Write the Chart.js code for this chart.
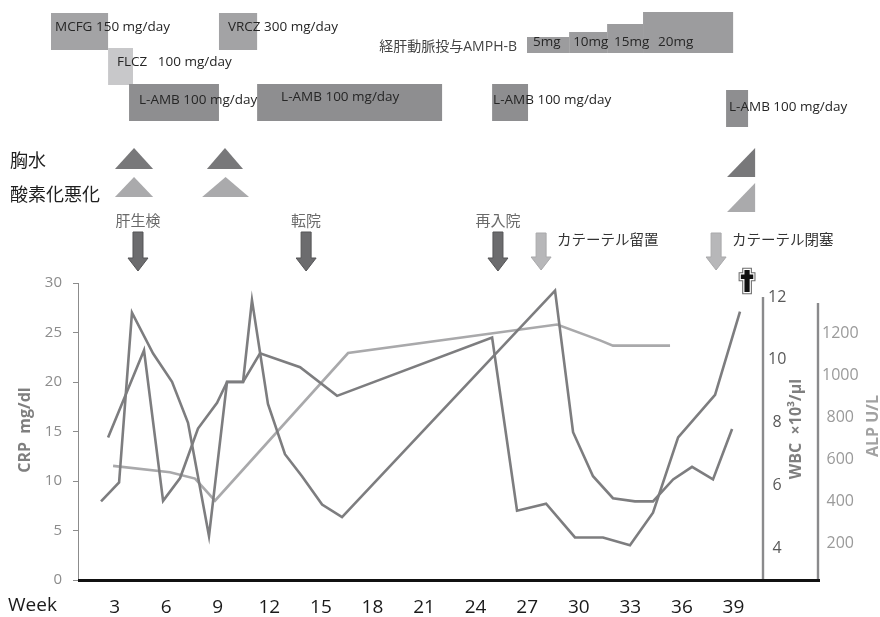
<!DOCTYPE html>
<html>
<head>
<meta charset="utf-8">
<script src="https://cdn.jsdelivr.net/npm/chart.js@4.4.1/dist/chart.umd.min.js"></script>
<style>
  html, body { margin: 0; padding: 0; background: #ffffff; }
  #wrap { width: 880px; height: 617px; position: relative; }
  canvas { display: block; }
</style>
</head>
<body>
<div id="wrap"><canvas id="course" width="880" height="617"></canvas></div>
<script>
// ---------- Laboratory course, x = week of illness ----------
const wbcWeeks  = [2.21, 3.26, 4.01, 5.24, 6.34, 7.27, 8.49, 9.54, 10.47, 10.99, 11.92, 12.91, 13.90, 15.07, 16.23,
                   28.62, 29.67, 30.83, 31.99, 33.27, 34.32, 35.49, 36.59, 37.81, 38.92];
const wbcValues = [5.5, 6.1, 11.5, 10.2, 9.3, 8.0, 4.4, 9.3, 9.3, 11.9, 8.6, 7.0, 6.3, 5.4, 5.0,
                   12.2, 7.7, 6.3, 5.6, 5.5, 5.5, 6.2, 6.6, 6.2, 7.8];

const crpWeeks  = [2.62, 4.71, 5.82, 6.81, 7.85, 8.96, 9.54, 10.47, 11.46, 13.79, 15.94,
                   24.96, 26.41, 28.10, 29.78, 31.41, 32.98, 34.32, 35.78, 37.93, 39.38];
const crpValues = [14.4, 23.2, 8.0, 10.3, 15.3, 17.9, 20.0, 20.0, 22.9, 21.5, 18.6,
                   24.5, 7.0, 7.7, 4.3, 4.3, 3.5, 6.8, 14.4, 18.7, 27.1];

const alpWeeks  = [2.91, 6.22, 7.68, 8.84, 16.58, 28.74, 31.24, 31.99, 35.31];
const alpValues = [570, 540, 510, 405, 1105, 1240, 1165, 1140, 1140];

// ---------- Axis ticks ----------
const weekTicks = [3, 6, 9, 12, 15, 18, 21, 24, 27, 30, 33, 36, 39];
const crpTicks  = [0, 5, 10, 15, 20, 25, 30];
const wbcTicks  = [4, 6, 8, 10, 12];
const alpTicks  = [200, 400, 600, 800, 1000, 1200];

// ---------- Antifungal therapy (weeks) ----------
const drugNames = ['MCFG 150 mg/day', 'FLCZ   100 mg/day', 'VRCZ 300 mg/day',
                   'L-AMB 100 mg/day', 'L-AMB 100 mg/day', 'L-AMB 100 mg/day', 'L-AMB 100 mg/day'];
const drugStart = [-0.70, 2.62, 9.07, 3.84, 11.29, 24.96, 38.57];
const drugEnd   = [ 2.62, 4.07, 11.29, 9.07, 22.05, 27.05, 39.85];

// Trans-hepatic-arterial AMPH-B, dose steps
const amphLabel = '経肝動脈投与AMPH-B';
const amphDoses = ['5mg', '10mg', '15mg', '20mg'];
const amphStart = [26.99, 29.44, 31.65, 33.74];
const amphEnd   = [29.44, 31.65, 33.74, 38.98];

// ---------- Clinical findings (weeks) ----------
const effusionStart = [3.02, 8.37, 38.63];
const effusionEnd   = [5.24, 10.47, 40.26];
const oxygenStart   = [3.02, 8.09, 38.63];
const oxygenEnd     = [5.24, 10.82, 40.26];

const eventNames = ['肝生検', '転院', '再入院', 'カテーテル留置', 'カテーテル閉塞'];
const eventWeeks = [4.36, 14.14, 25.30, 27.81, 37.99];
const deathWeek  = 39.79;

// ---------- Drawing styles ----------
const LATIN = '"Open Sans", "Noto Sans CJK JP", sans-serif';
const CJK   = '"Noto Sans CJK JP", "Noto Sans CJK SC", sans-serif';
const LINE_DARK  = '#7d7d7f';
const LINE_LIGHT = '#a9a9ab';

// bar band (px), fill and label anchor for each drug course
const drugStyle = [
  { top: 13, bottom: 50, fill: '#a3a3a5', dx: 4,  ty: 27 },
  { top: 48, bottom: 85, fill: '#c8c8ca', dx: 9,  ty: 62 },
  { top: 13, bottom: 50, fill: '#a3a3a5', dx: 9,  ty: 27 },
  { top: 84, bottom: 121, fill: '#8e8e90', dx: 10, ty: 100 },
  { top: 84, bottom: 121, fill: '#8e8e90', dx: 24, ty: 97 },
  { top: 84, bottom: 121, fill: '#8e8e90', dx: 1,  ty: 100 },
  { top: 90, bottom: 127, fill: '#8e8e90', dx: 3,  ty: 107 }
];
const amphStepTop = [37, 32, 24, 12];
const amphTextDx  = [6, 4, 7, 15];
// event arrows: dark ones carry the label above, light ones to the right
const eventStyle = ['dark', 'dark', 'dark', 'light', 'light'];

function drawArrow(ctx, cx, top, bottom, fill, stroke) {
  const shaft = 10, head = 20, headH = 13;
  ctx.beginPath();
  ctx.moveTo(cx - shaft / 2, top);
  ctx.lineTo(cx + shaft / 2, top);
  ctx.lineTo(cx + shaft / 2, bottom - headH);
  ctx.lineTo(cx + head / 2, bottom - headH);
  ctx.lineTo(cx, bottom);
  ctx.lineTo(cx - head / 2, bottom - headH);
  ctx.lineTo(cx - shaft / 2, bottom - headH);
  ctx.closePath();
  ctx.fillStyle = fill;
  ctx.fill();
  ctx.lineWidth = 1;
  ctx.strokeStyle = stroke;
  ctx.stroke();
}

function drawCross(ctx, cx, cy) {
  const b = 2.6, a = 6.2, t = -11, btm = 11, a0 = -6.5, a1 = -2;
  ctx.beginPath();
  ctx.moveTo(cx - b, cy + t);
  ctx.lineTo(cx + b, cy + t);
  ctx.lineTo(cx + b, cy + a0);
  ctx.lineTo(cx + a, cy + a0);
  ctx.lineTo(cx + a, cy + a1);
  ctx.lineTo(cx + b, cy + a1);
  ctx.lineTo(cx + b, cy + btm);
  ctx.lineTo(cx - b, cy + btm);
  ctx.lineTo(cx - b, cy + a1);
  ctx.lineTo(cx - a, cy + a1);
  ctx.lineTo(cx - a, cy + a0);
  ctx.lineTo(cx - b, cy + a0);
  ctx.closePath();
  ctx.lineJoin = 'miter';
  ctx.lineWidth = 4.5; ctx.strokeStyle = '#6a6a6a'; ctx.stroke();
  ctx.lineWidth = 2.4; ctx.strokeStyle = '#ffffff'; ctx.stroke();
  ctx.fillStyle = '#111111'; ctx.fill();
}

function text(ctx, str, x, y, font, color, align, baseline) {
  ctx.font = font;
  ctx.fillStyle = color;
  ctx.textAlign = align || 'left';
  ctx.textBaseline = baseline || 'middle';
  ctx.fillText(str, x, y);
}

function rotatedText(ctx, str, cx, cy, font, color) {
  ctx.save();
  ctx.translate(cx, cy);
  ctx.rotate(-Math.PI / 2);
  text(ctx, str, 0, 0, font, color, 'center', 'middle');
  ctx.restore();
}

const courseAnnotations = {
  id: 'courseAnnotations',
  beforeDraw(chart) {
    const { ctx, width, height } = chart;
    ctx.save();
    ctx.fillStyle = '#ffffff';
    ctx.fillRect(0, 0, width, height);
    ctx.restore();
  },
  afterDraw(chart) {
    const { ctx, chartArea } = chart;
    const x = chart.scales.x, wbc = chart.scales.wbc, alp = chart.scales.alp;
    const px = w => x.getPixelForValue(w);
    ctx.save();

    // drug courses
    drugNames.forEach((name, i) => {
      const s = drugStyle[i];
      ctx.fillStyle = s.fill;
      ctx.fillRect(px(drugStart[i]), s.top, px(drugEnd[i]) - px(drugStart[i]), s.bottom - s.top);
    });
    drugNames.forEach((name, i) => {
      const s = drugStyle[i];
      text(ctx, name, px(drugStart[i]) + s.dx, s.ty, '13.5px ' + LATIN, '#262626');
    });

    // AMPH-B dose steps
    amphDoses.forEach((d, i) => {
      ctx.fillStyle = '#9c9c9e';
      ctx.fillRect(px(amphStart[i]), amphStepTop[i], px(amphEnd[i]) - px(amphStart[i]), 53 - amphStepTop[i]);
    });
    amphDoses.forEach((d, i) => {
      text(ctx, d, px(amphStart[i]) + amphTextDx[i], 42, '13.5px ' + LATIN, '#262626');
    });
    text(ctx, amphLabel, px(amphStart[0]) - 10, 47, '14px ' + LATIN, '#444444', 'right');

    // clinical findings
    text(ctx, '胸水', 10, 160, '18px ' + CJK, '#1f1f1f');
    text(ctx, '酸素化悪化', 10, 194, '18px ' + CJK, '#1f1f1f');
    const tri = (x0, x1, yt, yb, right, color) => {
      ctx.beginPath();
      ctx.moveTo(x0, yb);
      ctx.lineTo(x1, yb);
      if (right) ctx.lineTo(x1, yt); else ctx.lineTo((x0 + x1) / 2, yt);
      ctx.closePath();
      ctx.fillStyle = color;
      ctx.fill();
    };
    effusionStart.forEach((s, i) => {
      const right = i === effusionStart.length - 1;
      tri(px(s), px(effusionEnd[i]), 148, right ? 177 : 169, right, '#78787a');
    });
    oxygenStart.forEach((s, i) => {
      const right = i === oxygenStart.length - 1;
      tri(px(s), px(oxygenEnd[i]), right ? 183 : 177, right ? 212 : 197, right, '#aaaaac');
    });

    // events
    eventNames.forEach((name, i) => {
      const cx = px(eventWeeks[i]);
      if (eventStyle[i] === 'dark') {
        drawArrow(ctx, cx, 232, 271, '#6c6c6e', '#555557');
        text(ctx, name, cx, 220, '15px ' + CJK, '#6a6a6a', 'center');
      } else {
        drawArrow(ctx, cx, 233, 270, '#b7b7b9', '#a9a9ab');
        text(ctx, name, cx + 16, 239, '14.5px ' + CJK, '#333333', 'left');
      }
    });
    drawCross(ctx, px(deathWeek), 281);

    // axis lines of the secondary scales and the time baseline
    ctx.lineWidth = 2.4;
    ctx.strokeStyle = '#8a8a8c';
    ctx.beginPath();
    ctx.moveTo(wbc.left + 1, wbc.getPixelForValue(wbcTicks[wbcTicks.length - 1]));
    ctx.lineTo(wbc.left + 1, chartArea.bottom);
    ctx.moveTo(alp.left, chartArea.top + 20);
    ctx.lineTo(alp.left, chartArea.bottom);
    ctx.stroke();
    ctx.lineWidth = 3;
    ctx.strokeStyle = '#111111';
    ctx.beginPath();
    ctx.moveTo(chartArea.left, chartArea.bottom + 0.5);
    ctx.lineTo(alp.left + 2, chartArea.bottom + 0.5);
    ctx.stroke();

    // axis titles
    rotatedText(ctx, 'CRP  mg/dl', 25, 430, 'bold 16px ' + LATIN, '#7f7f7f');
    rotatedText(ctx, 'WBC  ×10³/μl', 796, 429, 'bold 16px ' + LATIN, '#7f7f7f');
    rotatedText(ctx, 'ALP U/L', 873, 426, 'bold 16px ' + LATIN, '#a2a2a2');
    text(ctx, 'Week', 8, 596, '19px ' + LATIN, '#1a1a1a', 'left', 'top');

    ctx.restore();
  }
};

const pts = (xs, ys) => xs.map((w, i) => ({ x: w, y: ys[i] }));
const setTicks = list => scale => { scale.ticks = list.map(v => ({ value: v })); };
const plain = v => String(v);

function build() {
  new Chart(document.getElementById('course'), {
    type: 'line',
    data: {
      datasets: [
        { label: 'WBC', data: pts(wbcWeeks, wbcValues), yAxisID: 'wbc', borderColor: LINE_DARK,
          borderWidth: 2.6, pointRadius: 0, tension: 0, fill: false, order: 1 },
        { label: 'CRP', data: pts(crpWeeks, crpValues), yAxisID: 'crp', borderColor: LINE_DARK,
          borderWidth: 2.6, pointRadius: 0, tension: 0, fill: false, order: 2 },
        { label: 'ALP', data: pts(alpWeeks, alpValues), yAxisID: 'alp', borderColor: LINE_LIGHT,
          borderWidth: 2.6, pointRadius: 0, tension: 0, fill: false, order: 3 }
      ]
    },
    options: {
      responsive: false,
      animation: false,
      devicePixelRatio: 1,
      layout: { padding: { top: 283, left: 0, right: 0, bottom: 0 } },
      plugins: { legend: { display: false }, tooltip: { enabled: false }, title: { display: false } },
      scales: {
        x: {
          type: 'linear', position: 'bottom', min: 0.87, max: 40.66,
          afterBuildTicks: setTicks(weekTicks),
          afterFit: s => { s.height = 37; },
          grid: { display: false, drawTicks: false },
          border: { display: false },
          ticks: { font: { family: LATIN, size: 19 }, color: '#1a1a1a', padding: 16,
                   maxRotation: 0, autoSkip: false, callback: plain }
        },
        crp: {
          type: 'linear', position: 'left', min: 0, max: 30,
          afterBuildTicks: setTicks(crpTicks),
          afterFit: s => { s.width = 78; },
          grid: { display: true, drawOnChartArea: false, drawTicks: true, tickLength: 5, color: '#8c8c8c' },
          border: { display: true, color: '#8c8c8c', width: 1 },
          ticks: { font: { family: LATIN, size: 15 }, color: '#8c8c8c', padding: 11, callback: plain }
        },
        wbc: {
          type: 'linear', position: 'right', min: 3, max: 12.445, weight: 0,
          afterBuildTicks: setTicks(wbcTicks),
          afterFit: s => { s.width = 56; },
          grid: { display: false, drawTicks: false },
          border: { display: false },
          ticks: { font: { family: LATIN, size: 16 }, color: '#595959', padding: 6, crossAlign: 'center',
                   callback: plain }
        },
        alp: {
          type: 'linear', position: 'right', min: 29, max: 1437, weight: 1,
          afterBuildTicks: setTicks(alpTicks),
          afterFit: s => { s.width = 62; },
          grid: { display: false, drawTicks: false },
          border: { display: false },
          ticks: { font: { family: LATIN, size: 16 }, color: '#9a9a9a', padding: 4, crossAlign: 'center',
                   callback: plain }
        }
      }
    },
    plugins: [courseAnnotations]
  });
}

Promise.all([
  document.fonts.load('15px "Open Sans"'),
  document.fonts.load('bold 16px "Open Sans"'),
  document.fonts.load('15px "Noto Sans CJK JP"')
]).then(build, build);
</script>
</body>
</html>
